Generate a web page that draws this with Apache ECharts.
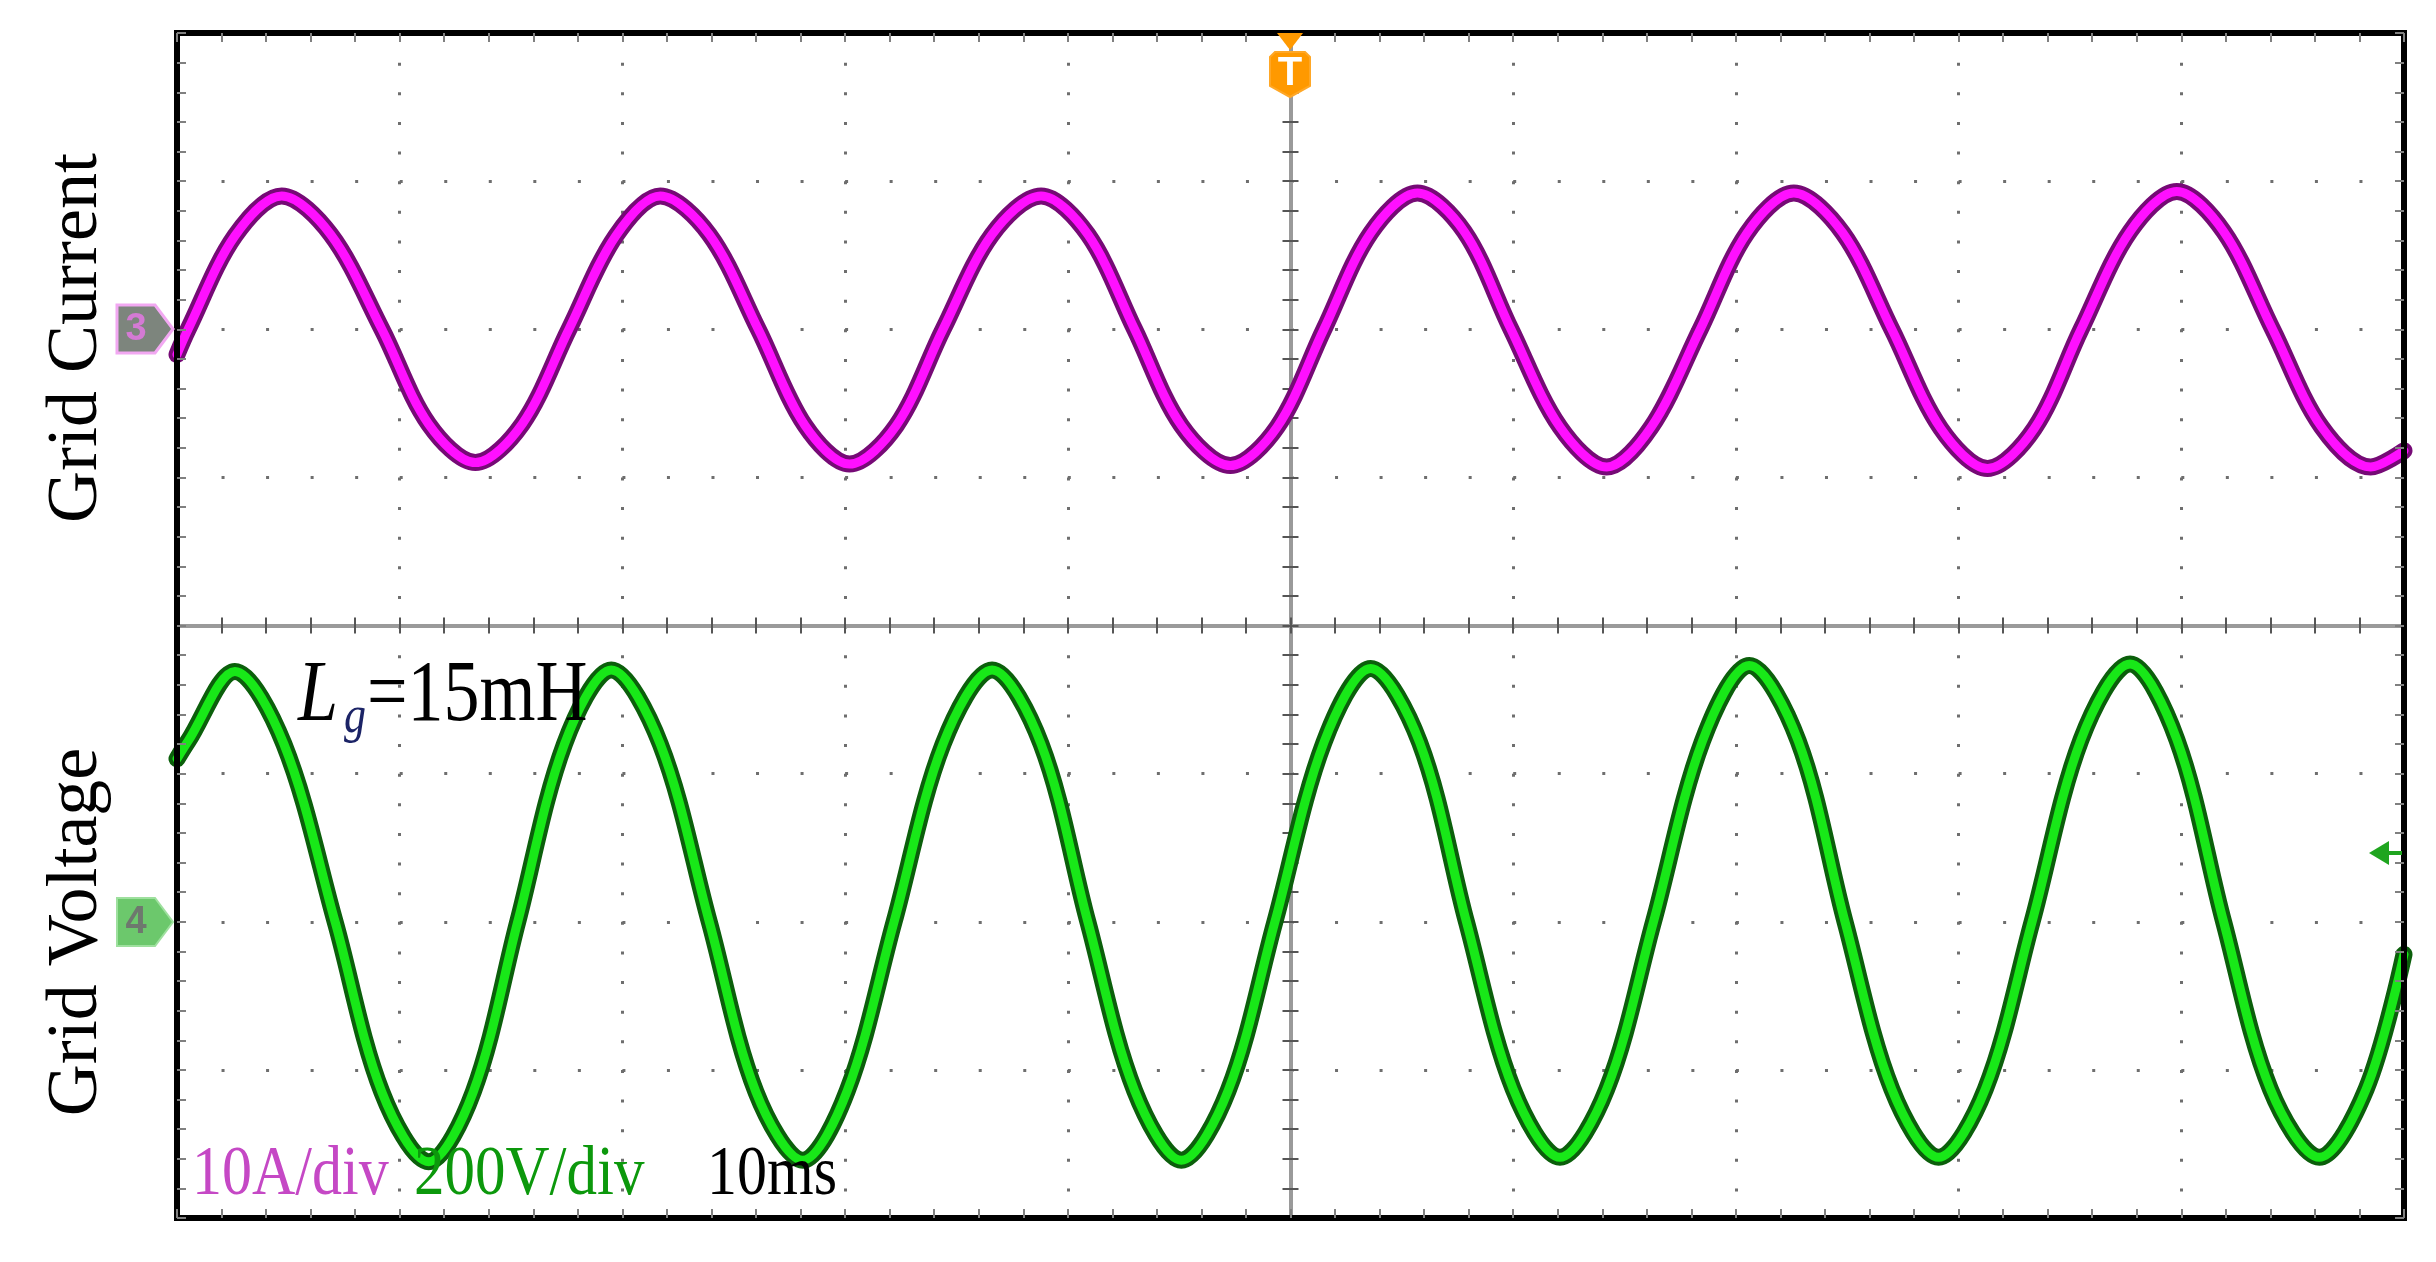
<!DOCTYPE html>
<html>
<head>
<meta charset="utf-8">
<script src="https://cdn.jsdelivr.net/npm/echarts@6/dist/echarts.min.js"></script>
<style>
html,body{margin:0;padding:0;background:#ffffff;}
#c{width:2436px;height:1262px;}
</style>
</head>
<body>
<div id="c"></div>
<script>
// ---- Data (time relative to trigger) ----
// Grid current (channel 3), 10 A/div
const currentTimeMs = [-50.0,-49.5,-47.4,-45.3,-43.1,-40.8,-38.7,-36.6,-34.5,-32.4,-30.3,-28.3,-26.1,-23.9,-21.8,-19.8,-17.7,-15.6,-13.4,-11.2,-9.1,-7.0,-4.9,-2.7,-0.6,1.5,3.6,5.7,7.8,9.9,12.1,14.2,16.2,18.4,20.5,22.6,24.8,27.0,29.2,31.3,33.4,35.5,37.7,39.8,41.9,44.1,46.3,48.5,50.0];
const currentAmps   = [-1.7,0.0,6.3,9.0,6.4,0.0,-6.4,-9.0,-6.4,0.0,6.3,9.0,6.4,0.0,-6.5,-9.1,-6.5,0.0,6.4,9.0,6.4,0.0,-6.5,-9.2,-6.6,0.0,6.5,9.2,6.6,0.0,-6.6,-9.3,-6.6,0.0,6.5,9.2,6.5,0.0,-6.7,-9.4,-6.7,0.0,6.6,9.3,6.6,0.0,-6.6,-9.3,-8.2];
// Grid voltage (channel 4), 200 V/div
const voltageTimeMs = [-50.0,-49.5,-47.4,-45.2,-42.9,-40.8,-38.7,-36.7,-34.7,-32.6,-30.5,-28.3,-26.1,-24.0,-21.9,-19.9,-17.8,-15.6,-13.4,-11.2,-9.1,-7.0,-4.9,-2.8,-0.7,1.5,3.6,5.8,7.9,10.0,12.1,14.2,16.3,18.5,20.6,22.8,24.9,27.0,29.1,31.2,33.3,35.5,37.7,39.8,41.9,44.0,46.2,48.3,50.0];
const voltageVolts  = [220,244,338,240,0,-230,-324,-230,0,240,340,240,0,-230,-322,-228,0,240,340,240,0,-228,-322,-228,0,242,342,242,0,-226,-318,-226,0,244,346,244,0,-226,-318,-226,0,246,348,246,0,-226,-318,-226,-44];
// Scope settings
const timeRangeMs = [-50, 50];      // 10 div x 10 ms/div
const divRange = [-4, 4];           // 8 vertical divisions
const currentRangeA = [-60, 20];    // ch3 offset: zero 2 div above centre
const voltageRangeV = [-400, 1200]; // ch4 offset: zero 2 div below centre
const scaleTexts = ['10A/div', '200V/div', '10ms'];
const channelLabels = ['Grid Current', 'Grid Voltage'];

const G = {left: 177, top: 33, width: 2227, height: 1185};
const dotGapX = G.width / 50;   // 0.2 div horizontally
const dotGapY = G.height / 40;  // 0.2 div vertically

const chart = echarts.init(document.getElementById('c'), null, {renderer: 'canvas', width: 2436, height: 1262});

function borderX(pos) {
  return {type: 'value', position: pos, min: timeRangeMs[0], max: timeRangeMs[1], interval: 2, z: 6,
    axisLine: {show: true, onZero: false, lineStyle: {color: '#000', width: 6, cap: 'square'}},
    axisTick: {show: true, inside: true, length: 9, lineStyle: {color: '#808080', width: 2}},
    axisLabel: {show: false}, splitLine: {show: false}};
}
function centerX(pos) {
  return {type: 'value', position: pos, min: timeRangeMs[0], max: timeRangeMs[1], interval: 2, z: 1,
    axisLine: {show: true, onZero: true, onZeroAxisIndex: 0, lineStyle: {color: '#9a9a9a', width: 4}},
    axisTick: {show: true, inside: true, length: 8, lineStyle: {color: '#555', width: 2}},
    axisLabel: {show: false}, splitLine: {show: false}};
}
function borderY(pos) {
  return {type: 'value', position: pos, min: divRange[0] * 5, max: divRange[1] * 5, interval: 1, z: 6,
    axisLine: {show: true, onZero: false, lineStyle: {color: '#000', width: 6, cap: 'square'}},
    axisTick: {show: true, inside: true, length: 9, lineStyle: {color: '#808080', width: 2}},
    axisLabel: {show: false}, splitLine: {show: false}};
}
function centerY(pos) {
  return {type: 'value', position: pos, min: divRange[0] * 5, max: divRange[1] * 5, interval: 1, z: 1,
    axisLine: {show: true, onZero: true, onZeroAxisIndex: 0, lineStyle: {color: '#9a9a9a', width: 4}},
    axisTick: {show: true, inside: true, length: 8, lineStyle: {color: '#555', width: 2}},
    axisLabel: {show: false}, splitLine: {show: false}};
}

function trace(xs, ys, yIndex, color, width, z) {
  return {type: 'line', xAxisIndex: 0, yAxisIndex: yIndex,
    data: xs.map((x, i) => [x, ys[i]]),
    smooth: 0.33, showSymbol: false, symbol: 'none', silent: true, animation: false, z: z,
    lineStyle: {color: color, width: width, cap: 'round', join: 'round'}};
}

function txt(text, x, y, font, fill, sy, extra) {
  return Object.assign({type: 'text', x: x, y: y, z: 100, silent: true, scaleY: sy || 1,
    style: {text: text, font: font, fill: fill, align: 'left', textAlign: 'left', verticalAlign: 'middle', textVerticalAlign: 'middle'}}, extra || {});
}

const option = {
  backgroundColor: '#ffffff',
  animation: false,
  grid: {left: G.left, top: G.top, width: G.width, height: G.height, containLabel: false, outerBoundsMode: 'none'},
  xAxis: [
    {type: 'value', position: 'bottom', min: timeRangeMs[0], max: timeRangeMs[1], interval: 10, z: 0,
      axisLine: {show: false, onZero: false}, axisTick: {show: false}, axisLabel: {show: false},
      splitLine: {show: true, lineStyle: {color: '#6e6e6e', width: 3, type: [3, dotGapY - 3]}}},
    borderX('bottom'),
    borderX('top'),
    centerX('bottom'),
    centerX('top')
  ],
  yAxis: [
    {type: 'value', position: 'left', min: divRange[0], max: divRange[1], interval: 1, z: 0,
      axisLine: {show: false, onZero: false}, axisTick: {show: false}, axisLabel: {show: false},
      splitLine: {show: true, lineStyle: {color: '#6e6e6e', width: 3, type: [3, dotGapX - 3]}}},
    borderY('left'),
    borderY('right'),
    centerY('left'),
    centerY('right'),
    {type: 'value', show: false, min: currentRangeA[0], max: currentRangeA[1], axisLine: {onZero: false}, splitLine: {show: false}},
    {type: 'value', show: false, min: voltageRangeV[0], max: voltageRangeV[1], axisLine: {onZero: false}, splitLine: {show: false}}
  ],
  series: [
    trace(currentTimeMs, currentAmps, 5, '#760a76', 17, 3),
    trace(currentTimeMs, currentAmps, 5, '#ff10ff', 9, 4),
    trace(voltageTimeMs, voltageVolts, 6, '#0b5f0b', 17, 3),
    trace(voltageTimeMs, voltageVolts, 6, '#18e818', 9, 4)
  ],
  graphic: {elements: [
    // channel labels
    {type: 'text', x: 77, y: 338, z: 100, silent: true, rotation: Math.PI / 2,
      style: {text: channelLabels[0], font: '72px "Liberation Serif"', fill: '#000', align: 'center', textAlign: 'center', verticalAlign: 'middle', textVerticalAlign: 'middle'}},
    {type: 'text', x: 77, y: 932, z: 100, silent: true, rotation: Math.PI / 2,
      style: {text: channelLabels[1], font: '72px "Liberation Serif"', fill: '#000', align: 'center', textAlign: 'center', verticalAlign: 'middle', textVerticalAlign: 'middle'}},
    // Lg = 15mH
    txt('L', 298, 697, 'italic 72px "Liberation Serif"', '#000', 1.2),
    txt('g', 344, 718, 'italic 44px "Liberation Serif"', '#1b2366', 1.2),
    txt('=15mH', 367, 697, '72px "Liberation Serif"', '#000', 1.2),
    // scale readouts
    txt(scaleTexts[0], 192, 1176, '60px "Liberation Serif"', '#c548c5', 1.15),
    txt(scaleTexts[1], 414, 1176, '61px "Liberation Serif"', '#0c980c', 1.15),
    txt(scaleTexts[2], 707, 1176, '60px "Liberation Serif"', '#000', 1.15),
    // channel 3 marker
    {type: 'polygon', z: 90, silent: true,
      shape: {points: [[117, 305], [155, 305], [173, 329], [155, 353], [117, 353]]},
      style: {fill: '#7d857d', stroke: '#f2a8f2', lineWidth: 3}},
    {type: 'text', x: 136, y: 330, z: 95, silent: true,
      style: {text: '3', font: 'bold 38px "Liberation Sans"', fill: '#d47ad4', align: 'center', textAlign: 'center', verticalAlign: 'middle', textVerticalAlign: 'middle'}},
    // channel 4 marker
    {type: 'polygon', z: 90, silent: true,
      shape: {points: [[117, 898], [155, 898], [173, 922], [155, 946], [117, 946]]},
      style: {fill: '#6cc86c', stroke: '#9ee09e', lineWidth: 2}},
    {type: 'text', x: 136, y: 923, z: 95, silent: true,
      style: {text: '4', font: 'bold 38px "Liberation Sans"', fill: '#6e786e', align: 'center', textAlign: 'center', verticalAlign: 'middle', textVerticalAlign: 'middle'}},
    // trigger marker
    {type: 'polygon', z: 90, silent: true,
      shape: {points: [[1277, 33], [1303, 33], [1290, 50]]},
      style: {fill: '#ff9900'}},
    {type: 'polygon', z: 90, silent: true,
      shape: {points: [[1275, 52], [1305, 52], [1310, 57], [1310, 86], [1290, 97], [1270, 86], [1270, 57]]},
      style: {fill: '#ff9900', stroke: '#ffa726', lineWidth: 2}},
    {type: 'text', x: 1290, y: 74, z: 95, silent: true,
      style: {text: 'T', font: 'bold 40px "Liberation Sans"', fill: '#ffffff', align: 'center', textAlign: 'center', verticalAlign: 'middle', textVerticalAlign: 'middle'}},
    // trigger level arrow (right)
    {type: 'polygon', z: 90, silent: true,
      shape: {points: [[2369, 853], [2389, 841], [2389, 865]]},
      style: {fill: '#1fa51f'}},
    {type: 'line', z: 90, silent: true,
      shape: {x1: 2386, y1: 853, x2: 2402, y2: 853},
      style: {stroke: '#1fa51f', lineWidth: 4}}
  ]}
};
chart.setOption(option);
</script>
</body>
</html>
